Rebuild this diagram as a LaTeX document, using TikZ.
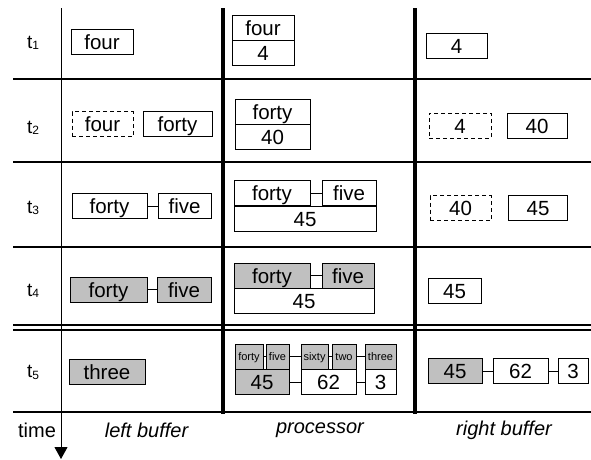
\documentclass[tikz,border=0pt]{standalone}
\usepackage{fontspec}
\setmainfont{Liberation Sans}
\usetikzlibrary{arrows.meta}
\definecolor{boxgray}{RGB}{192,192,192}
\newcommand{\tlab}[1]{t{\fontsize{12}{12}\selectfont\raisebox{-1.5pt}{#1}}}

\begin{document}
\begin{tikzpicture}[x=1pt,y=-1pt,
  cell/.style={draw,line width=0.9pt,inner sep=0pt,minimum height=25pt,
    font=\fontsize{20.5}{20.5}\selectfont,text height=15pt,text depth=0pt},
  wd/.style={minimum width=#1pt},
  done/.style={cell,fill=boxgray},
  gone/.style={cell,dash pattern=on 4pt off 3pt},
  small/.style={font=\fontsize{11}{11}\selectfont,text height=8pt},
  link/.style={line width=0.9pt},
  rowline/.style={line width=2pt},
  wall/.style={line width=4pt},
  steplabel/.style={font=\fontsize{19}{19}\selectfont},
  collabel/.style={font=\fontsize{20}{20}\selectfont\itshape}]
  \useasboundingbox (0,0) rectangle (591,459);

  % grid
  \foreach \y in {79,161.5,247,412}
    \draw [rowline] (13,\y) -- (591,\y);
  \draw [rowline] (13,325.3) -- (591,325.3);
  \draw [rowline] (13,329.5) -- (591,329.5);
  \draw [wall] (223,8) -- (223,414);
  \draw [wall] (415,8) -- (415,414);

  % time axis
  \coordinate (top) at (61,8);
  \coordinate (bottom) at (61,459);
  \draw [line width=0.9pt,-{Triangle[width=13pt,length=12pt]}] (top) -- (bottom);

  % step labels
  \node [steplabel] (s1) at (33,43) {\tlab{1}};
  \node [steplabel] (s2) at (33,128) {\tlab{2}};
  \node [steplabel] (s3) at (33,208) {\tlab{3}};
  \node [steplabel] (s4) at (33,291) {\tlab{4}};
  \node [steplabel] (s5) at (33,372.5) {\tlab{5}};

  % t1
  \node [cell,wd=62] (l1) at (102,42) {four};
  \node [cell,wd=62] (p1a) at (263,27.5) {four};
  \node [cell,wd=62] (p1b) at (263,52.5) {4};
  \node [cell,wd=61] (r1) at (456.5,46) {4};

  % t2
  \node [gone,wd=61] (l2a) at (102.5,124) {four};
  \node [cell,wd=69] (l2b) at (177.5,124) {forty};
  \node [cell,wd=75] (p2a) at (272.5,111.5) {forty};
  \node [cell,wd=75] (p2b) at (272.5,136.5) {40};
  \node [gone,wd=62] (r2a) at (460,125.5) {4};
  \node [cell,wd=60] (r2b) at (537,125.5) {40};

  % t3
  \node [cell,wd=75] (l3a) at (109.5,206) {forty};
  \node [cell,wd=53] (l3b) at (184.5,206) {five};
  \draw [link] (l3a) -- (l3b);
  \node [cell,wd=76] (p3a) at (272,193) {forty};
  \node [cell,wd=54] (p3b) at (349,193) {five};
  \node [cell,wd=142] (p3c) at (305,218.5) {45};
  \draw [link] (p3a) -- (p3b);
  \node [gone,wd=61] (r3a) at (460.5,208) {40};
  \node [cell,wd=59] (r3b) at (538,208) {45};

  % t4
  \node [done,wd=77] (l4a) at (108.5,289.5) {forty};
  \node [done,wd=54] (l4b) at (184,289.5) {five};
  \draw [link] (l4a) -- (l4b);
  \node [done,wd=76] (p4a) at (272,275.5) {forty};
  \node [done,wd=52] (p4b) at (348,275.5) {five};
  \node [cell,wd=140] (p4c) at (304,301) {45};
  \draw [link] (p4a) -- (p4b);
  \node [cell,wd=53] (r4) at (454.5,290.5) {45};

  % t5
  \node [done,wd=76] (l5) at (107,372) {three};
  \node [done,small,wd=28] (p5a) at (249,356.5) {forty};
  \node [done,small,wd=23] (p5b) at (277.5,356.5) {five};
  \node [done,small,wd=27] (p5c) at (314.5,356.5) {sixty};
  \node [done,small,wd=24] (p5d) at (344,356.5) {two};
  \node [done,small,wd=31] (p5e) at (380.5,356.5) {three};
  \node [done,wd=54] (p5f) at (262,382) {45};
  \node [cell,wd=55] (p5g) at (328.5,382) {62};
  \node [cell,wd=31] (p5h) at (380.5,382) {3};
  \draw [link] (p5a) -- (p5b);
  \draw [link] (p5b) -- (p5c);
  \draw [link] (p5c) -- (p5d);
  \draw [link] (p5d) -- (p5e);
  \draw [link] (p5f) -- (p5g);
  \draw [link] (p5g) -- (p5h);
  \node [done,wd=54] (r5a) at (455,371) {45};
  \node [cell,wd=55] (r5b) at (520.5,371) {62};
  \node [cell,wd=30] (r5c) at (573,371) {3};
  \draw [link] (r5a) -- (r5b);
  \draw [link] (r5b) -- (r5c);

  % column labels
  \node [font=\fontsize{20}{20}\selectfont] (time) at (37,430) {time};
  \node [collabel] (lbuf) at (146.5,430) {left buffer};
  \node [collabel] (proc) at (320,430) {processor};
  \node [collabel] (rbuf) at (504,430) {right buffer};
\end{tikzpicture}
\end{document}
